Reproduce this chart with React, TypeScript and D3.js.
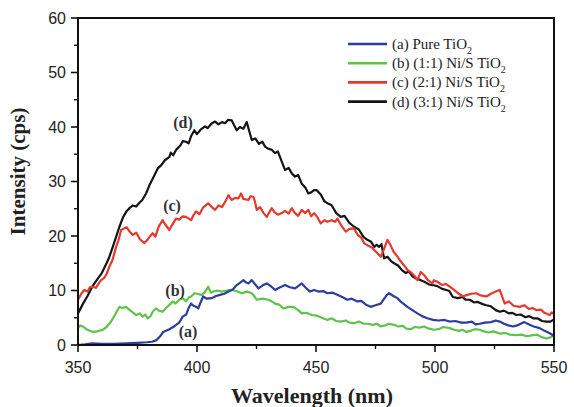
import React from "react";
import * as d3 from "d3";

const xTicks = [350, 400, 450, 500, 550];
const yTicks = [0, 10, 20, 30, 40, 50, 60];

const seriesNames = ["(a) Pure TiO", "(b) (1:1) Ni/S TiO", "(c) (2:1) Ni/S TiO", "(d) (3:1) Ni/S TiO"];
const curveLabels = ["(a)", "(b)", "(c)", "(d)"];
const colors = ["#2b3d9f", "#5fc24a", "#e4392c", "#151515"];

const seriesA: [number, number][] = [
  [350, 0.0], [353, 0.1], [356, 0.3], [360, 0.2], [365, 0.2], [370, 0.3], [375, 0.4], [379, 0.5], [381, 0.6],
  [383, 0.9], [384.5, 1.6], [385.8, 2.4], [387, 2.6], [388.4, 2.9], [390, 3.3], [391.2, 3.7], [392.5, 4.1],
  [394, 5.2], [395.5, 5.6], [396.5, 6.8], [397.5, 7.6], [398.5, 7.2], [399.6, 7.0], [400.5, 6.7], [401.5, 7.8],
  [402.6, 8.9], [404, 8.5], [406.2, 8.6], [408, 9.0], [409.7, 9.2], [411.5, 9.4], [413.2, 9.8], [415, 10.2],
  [416.7, 11.0], [418, 11.4], [419.5, 11.9], [420.5, 11.5], [421.6, 11.3], [423, 11.9], [424.3, 11.2],
  [425.8, 10.4], [427.5, 10.9], [429.3, 11.3], [431, 10.8], [432.8, 10.1], [434.5, 10.5], [437, 11.0],
  [439, 10.6], [441.2, 10.4], [442.5, 10.8], [444, 11.3], [445.5, 10.6], [447.5, 9.8], [449.2, 10.1],
  [451, 9.8], [453, 9.9], [454.8, 9.5], [457, 9.6], [459, 9.2], [461, 8.8], [463.2, 8.3], [465, 8.5],
  [467.4, 8.0], [469, 8.1], [471, 7.4], [473, 7.0], [475, 7.3], [477.2, 7.6], [478.5, 8.4], [480, 9.3],
  [480.7, 9.5], [482.5, 9.0], [484.2, 8.6], [486, 7.8], [488.4, 7.0], [490.5, 6.4], [492.6, 5.8], [494.5, 5.3],
  [496.8, 4.9], [499.2, 4.6], [501.5, 4.5], [504, 4.6], [506.2, 4.3], [508.5, 4.4], [511, 4.1], [513.2, 4.1],
  [515.5, 4.3], [517, 3.8], [518.8, 3.9], [521, 4.1], [523.5, 4.2], [525.5, 4.5], [527.2, 4.3], [529, 3.9],
  [530.8, 3.6], [532.8, 3.4], [534.5, 3.6], [536, 3.9], [537.5, 4.2], [539.8, 3.7], [541.5, 3.4], [544, 3.1],
  [546, 2.6], [548, 2.2], [549.6, 1.8], [550, 1.6],
];

const seriesB: [number, number][] = [
  [350, 3.1], [351, 3.6], [352, 3.4], [353.5, 2.9], [355, 2.6], [356.2, 2.4], [358, 2.5], [360.4, 2.8],
  [362, 3.3], [363.9, 4.3], [365.5, 5.5], [367.4, 7.0], [368.5, 6.8], [370.2, 7.0], [371.5, 6.5], [373, 6.0],
  [374.4, 5.5], [376, 5.8], [377.2, 5.2], [378.3, 5.6], [379.3, 4.9], [380.5, 5.3], [381.5, 6.2], [382.8, 6.7],
  [384, 6.3], [385.6, 6.1], [387, 6.8], [388.5, 7.4], [389.8, 8.0], [391, 7.6], [392.5, 8.3], [394, 8.6],
  [395.4, 8.0], [396.5, 8.7], [397.5, 8.9], [398.9, 9.5], [400, 9.4], [402, 9.2], [403.5, 9.8], [404.7, 10.7],
  [405.8, 9.6], [406.8, 9.8], [408.5, 10.0], [410.4, 9.8], [412.5, 10.0], [414.6, 10.1], [416.5, 9.9],
  [418.8, 9.5], [421, 9.8], [423, 9.5], [424, 9.0], [425.1, 8.3], [427.5, 8.5], [430, 8.3], [431.5, 8.0],
  [432.8, 7.6], [434.5, 7.4], [436.3, 6.7], [438.5, 7.0], [440.5, 7.0], [442.5, 6.4], [444, 5.8], [446, 5.9],
  [448.2, 5.5], [450.3, 5.4], [452.5, 5.0], [454.8, 4.6], [456.5, 4.9], [458.5, 4.4], [460.4, 4.3],
  [462.5, 4.5], [464, 4.1], [466, 4.0], [468, 4.3], [470, 3.9], [471.6, 3.9], [474, 3.7], [475.5, 3.9],
  [477.2, 3.4], [479, 3.6], [480.5, 3.9], [482.8, 3.7], [484.5, 3.4], [486.5, 3.5], [488, 3.0], [489.8, 2.9],
  [491.5, 3.3], [493.5, 3.2], [495.4, 3.4], [497.5, 3.0], [499.6, 2.8], [501.5, 2.9], [503.5, 3.3],
  [506.2, 3.1], [508, 2.8], [510, 2.6], [511.5, 2.8], [513.2, 2.4], [515, 2.6], [516.8, 2.9], [518.8, 2.8],
  [520.5, 2.5], [522.5, 2.3], [524.5, 2.5], [527.2, 2.1], [529.5, 2.2], [531.5, 1.9], [534.2, 1.8],
  [536.5, 1.9], [538.5, 1.6], [541.2, 1.8], [543, 1.9], [544.5, 1.5], [546.8, 1.2], [548.5, 1.4], [550, 1.8],
];

const seriesC: [number, number][] = [
  [350, 8.3], [351.5, 9.5], [352.6, 10.1], [354, 9.8], [355, 10.6], [356.2, 10.7], [357.5, 10.5], [359, 11.5],
  [359.7, 11.9], [361, 12.3], [362, 13.0], [363.2, 14.4], [364.5, 15.6], [366, 18.0], [367, 19.2],
  [368.1, 21.1], [369.5, 21.4], [370.5, 21.6], [371.5, 20.9], [373, 20.2], [374.5, 20.6], [376, 19.4],
  [377.9, 18.7], [379, 19.2], [380, 19.8], [381.4, 20.5], [382.5, 19.9], [384, 21.8], [385.6, 22.9],
  [386.5, 22.2], [388.4, 21.1], [389.5, 22.0], [391.2, 23.2], [392.5, 23.0], [394, 23.6], [395.4, 23.5],
  [397.5, 22.9], [398.5, 23.8], [399.6, 24.5], [401, 24.0], [402.5, 25.2], [404.7, 26.0], [406, 25.4],
  [407.6, 24.8], [409, 25.6], [410.5, 25.3], [412, 26.4], [413.2, 27.5], [414.5, 26.6], [416, 27.0],
  [417.4, 26.9], [418.5, 27.8], [419.5, 26.8], [421.6, 26.6], [422.5, 27.3], [423.7, 27.2], [424.3, 26.4],
  [425.1, 24.8], [426.5, 25.3], [428, 24.2], [429.3, 23.5], [430.3, 24.3], [431.4, 25.1], [432.5, 24.4],
  [434, 23.9], [435.6, 24.2], [437, 24.6], [438.5, 24.1], [439.8, 25.1], [441, 24.3], [442.5, 23.7],
  [444, 24.8], [445.5, 24.2], [446.8, 24.8], [448, 23.6], [449.2, 24.2], [450.5, 23.5], [452, 22.3],
  [453.5, 22.9], [454.8, 22.6], [456.5, 22.9], [458, 22.6], [459, 23.2], [460.5, 22.0], [462.5, 20.8],
  [464, 21.3], [466, 21.4], [467.5, 20.2], [469, 19.7], [470.2, 18.7], [472, 18.2], [473.5, 17.9],
  [475, 17.2], [477.2, 16.2], [478.5, 17.5], [480, 19.3], [481, 18.6], [482.5, 17.2], [484.2, 16.2],
  [485.5, 15.4], [487, 14.6], [488.4, 13.8], [490, 13.3], [491.5, 12.6], [492.6, 11.9], [494, 13.4],
  [495.5, 12.8], [497, 11.9], [498.9, 11.3], [499.5, 11.9], [501, 11.6], [503, 11.0], [504.5, 11.2],
  [506.2, 10.7], [508, 10.1], [510, 9.4], [511.8, 8.9], [513.5, 9.2], [515.5, 9.4], [517.4, 9.5],
  [519, 9.1], [520.5, 9.0], [521.6, 8.9], [523.5, 9.4], [525.5, 9.8], [527.2, 10.1], [528.3, 8.8],
  [529.3, 7.6], [531, 8.0], [533, 7.2], [535.6, 7.0], [537.5, 7.3], [539.5, 6.6], [541, 6.8], [542.6, 6.4],
  [544.5, 6.5], [546, 5.9], [548.2, 5.5], [549, 6.0], [550, 5.7],
];

const seriesD: [number, number][] = [
  [350, 5.8], [352, 7.5], [354, 9.0], [356, 10.7], [358, 12.0], [360, 13.2], [362, 15.0], [363.2, 16.2],
  [365, 18.5], [367.4, 21.7], [369, 23.5], [370.5, 24.6], [371.6, 25.1], [373, 25.6], [374.4, 25.4],
  [376, 26.2], [377, 26.6], [378.6, 27.8], [380, 29.3], [381.5, 30.6], [383.5, 32.4], [385, 33.0],
  [386.5, 33.9], [388.4, 34.5], [389, 35.3], [390, 34.8], [391.2, 35.8], [393, 36.6], [394, 37.4],
  [395.4, 37.3], [396.5, 37.0], [397.5, 38.3], [398.9, 39.4], [400, 38.7], [401.5, 39.5], [403.4, 40.1],
  [404.5, 39.8], [406, 40.6], [407.6, 41.0], [409, 40.5], [410.5, 40.9], [411.8, 40.7], [413, 41.3],
  [414.6, 41.2], [415.5, 40.4], [416.7, 39.4], [418, 40.0], [419.5, 39.7], [420.9, 40.9], [421.8, 39.5],
  [423, 37.6], [424.5, 37.9], [426, 36.9], [427.5, 37.3], [428.6, 36.4], [430, 36.0], [431.5, 35.8],
  [432.8, 35.2], [434, 35.5], [435.5, 33.8], [437, 32.1], [438.5, 32.5], [440, 31.4], [441.2, 30.9],
  [442.5, 31.2], [444, 29.6], [445.5, 28.9], [446.8, 27.8], [448, 28.0], [449.2, 28.4], [450.3, 28.4],
  [452, 27.6], [453.5, 26.4], [454.8, 26.0], [456.5, 25.7], [458.5, 24.2], [460.4, 23.5], [462, 23.7],
  [464, 22.4], [466, 21.7], [468, 21.2], [470, 19.8], [471.6, 19.3], [473, 19.0], [474.5, 18.0],
  [475.5, 18.4], [476.5, 18.0], [477.5, 18.5], [478.6, 15.9], [480, 16.2], [481.5, 15.4], [482.8, 15.0],
  [484.5, 14.6], [486, 13.8], [487.7, 13.2], [489, 13.5], [490.5, 12.6], [492, 12.2], [494, 11.9],
  [496, 11.5], [497.5, 11.1], [498.9, 11.0], [501, 10.8], [503, 10.3], [504.8, 10.1], [506, 9.9],
  [507.5, 8.8], [509.7, 8.6], [511.5, 8.8], [513, 8.3], [514.6, 8.3], [516.5, 7.8], [518, 7.9], [520, 7.5],
  [521.6, 7.3], [523.5, 7.1], [525.5, 6.4], [527.2, 6.1], [529, 6.3], [531, 5.8], [532.5, 5.9], [534.2, 5.5],
  [536, 5.6], [538, 5.1], [539.5, 5.3], [541.2, 4.9], [543, 4.9], [545, 4.4], [546.8, 4.3], [548.5, 4.3],
  [550, 4.7],
];

const allSeries = [seriesA, seriesB, seriesC, seriesD];
// label positions in data coordinates (wavelength, intensity) for text baseline centre
const labelPositions: [number, number][] = [[396.2, 1.5], [390.8, 9.0], [389.5, 24.6], [394.1, 39.8]];

const W = 574;
const H = 407;
const M = { left: 78, right: 554, top: 18, bottom: 345 };
const serif = "'Liberation Serif', 'Times New Roman', serif";
const sans = "'Liberation Sans', Arial, sans-serif";

export default function App() {
  const x = d3.scaleLinear().domain([350, 550]).range([M.left, M.right]);
  const y = d3.scaleLinear().domain([0, 60]).range([M.bottom, M.top]);
  const line = d3
    .line<[number, number]>()
    .x((d) => x(d[0]))
    .y((d) => y(d[1]));

  const xMinor = d3.range(375, 550, 50);
  const yMinor = d3.range(5, 60, 10);
  const drawOrder = [3, 2, 1, 0];

  return (
    <svg
      width={W}
      height={H}
      style={{ position: "absolute", left: 0, top: 0, background: "#fff" }}
    >
      <defs>
        <clipPath id="plot">
          <rect x={M.left} y={M.top} width={M.right - M.left} height={M.bottom - M.top} />
        </clipPath>
      </defs>

      <g clipPath="url(#plot)">
        {drawOrder.map((i) => (
          <path
            key={i}
            d={line(allSeries[i]) || ""}
            fill="none"
            stroke={colors[i]}
            strokeWidth={2.2}
            strokeLinejoin="round"
          />
        ))}
      </g>

      <rect
        x={M.left}
        y={M.top}
        width={M.right - M.left}
        height={M.bottom - M.top}
        fill="none"
        stroke="#111"
        strokeWidth={2}
      />

      {yTicks.map((t) => (
        <g key={"y" + t}>
          <line x1={M.left - 7} x2={M.left} y1={y(t)} y2={y(t)} stroke="#111" strokeWidth={1.6} />
          <text
            x={M.left - 12}
            y={y(t) + 5.5}
            textAnchor="end"
            fontFamily={sans}
            fontSize={16}
            fill="#222"
          >
            {t}
          </text>
        </g>
      ))}
      {yMinor.map((t) => (
        <line key={"ym" + t} x1={M.left - 4} x2={M.left} y1={y(t)} y2={y(t)} stroke="#111" strokeWidth={1.4} />
      ))}

      {xTicks.map((t) => (
        <g key={"x" + t}>
          <line x1={x(t)} x2={x(t)} y1={M.bottom} y2={M.bottom + 7} stroke="#111" strokeWidth={1.6} />
          <text
            x={x(t)}
            y={M.bottom + 28}
            textAnchor="middle"
            fontFamily={sans}
            fontSize={16}
            fill="#222"
          >
            {t}
          </text>
        </g>
      ))}
      {xMinor.map((t) => (
        <line key={"xm" + t} x1={x(t)} x2={x(t)} y1={M.bottom} y2={M.bottom + 4} stroke="#111" strokeWidth={1.4} />
      ))}

      <text
        x={(M.left + M.right) / 2 - 4}
        y={403}
        textAnchor="middle"
        fontFamily={serif}
        fontWeight="bold"
        fontSize={22}
        fill="#222"
      >
        Wavelength (nm)
      </text>
      <text
        transform={`translate(25, ${(M.top + M.bottom) / 2 - 10}) rotate(-90)`}
        textAnchor="middle"
        fontFamily={serif}
        fontWeight="bold"
        fontSize={21}
        fill="#222"
      >
        Intensity (cps)
      </text>

      {curveLabels.map((lab, i) => (
        <text
          key={lab}
          x={x(labelPositions[i][0])}
          y={y(labelPositions[i][1])}
          textAnchor="middle"
          fontFamily={serif}
          fontWeight="bold"
          fontSize={16}
          fill="#333"
        >
          {lab}
        </text>
      ))}

      {seriesNames.map((name, i) => {
        const cy = 44 + i * 19.2;
        return (
          <g key={name}>
            <line x1={348} x2={387} y1={cy} y2={cy} stroke={colors[i]} strokeWidth={2.6} />
            <text x={392} y={cy + 5} fontFamily={serif} fontSize={15} fill="#222">
              {name}
              <tspan fontSize={10} dy={5}>2</tspan>
            </text>
          </g>
        );
      })}
    </svg>
  );
}
